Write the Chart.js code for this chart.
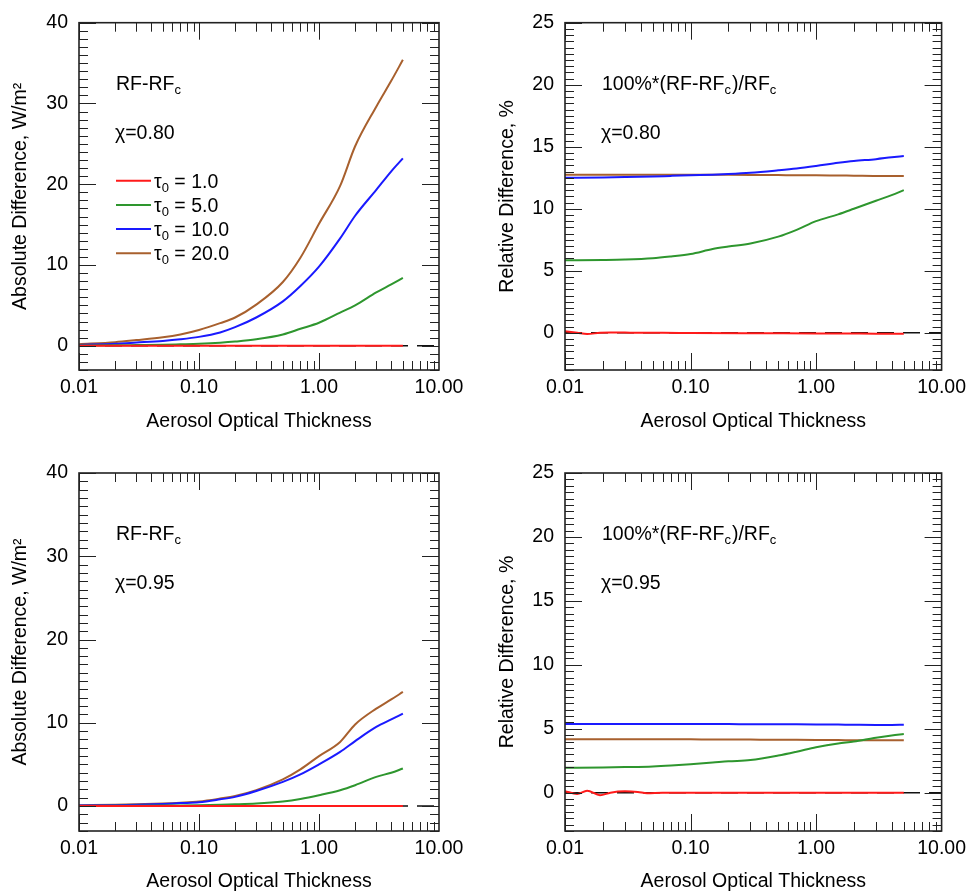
<!DOCTYPE html>
<html><head><meta charset="utf-8">
<script src="https://cdn.jsdelivr.net/npm/chart.js@4.4.0/dist/chart.umd.min.js"></script>
<style>
html,body{margin:0;padding:0;background:#fff;}
#wrap{position:relative;width:972px;height:893px;overflow:hidden;}
canvas{position:absolute;}
</style></head><body>
<div id="wrap">
<canvas id="c1" width="486" height="446" style="left:0;top:0"></canvas>
<canvas id="c2" width="486" height="446" style="left:486px;top:0"></canvas>
<canvas id="c3" width="486" height="447" style="left:0;top:446px"></canvas>
<canvas id="c4" width="486" height="447" style="left:486px;top:446px"></canvas>
</div>
<script>
// ---------- data ----------
const aot = [0.01,0.02,0.03,0.05,0.07,0.1,0.15,0.2,0.3,0.5,0.7,1.0,1.5,2.0,3.0,4.0,5.0];
const aotFine = [0.01,0.0125,0.015,0.019,0.023,0.03,0.038,0.045,0.06,0.1,0.3,1.0,3.0,5.0];
const tauLabels = ['1.0','5.0','10.0','20.0'];
const seriesColors = ['#ff1a1a','#2e962e','#1a1aff','#a8602e'];
const xTickValues = [0.01,0.1,1,10];
const xTickLabels = ['0.01','0.10','1.00','10.00'];
const absTicks = [0,10,20,30,40];
const relTicks = [0,5,10,15,20,25];

// Absolute difference, chi = 0.80
const abs080_tau1  = [0,0,0,0,0,0,0,0,0,0,0,0,0,0,0,0,0];
const abs080_tau5  = [0.02,0.05,0.08,0.12,0.18,0.25,0.38,0.52,0.8,1.4,2.1,2.85,4.1,5.0,6.6,7.6,8.4];
const abs080_tau10 = [0.1,0.25,0.4,0.6,0.8,1.1,1.65,2.3,3.5,5.5,7.4,9.8,13.3,16.1,19.3,21.6,23.2];
const abs080_tau20 = [0.2,0.45,0.7,1.05,1.4,1.95,2.8,3.5,5.1,7.9,10.9,15.1,19.8,24.7,29.6,32.8,35.4];
// Relative difference, chi = 0.80
const rel080_tau1  = [0.12,0.0,-0.1,0.0,0.03,0.02,0.0,0.0,0.0,-0.02,-0.04,-0.05,-0.07,-0.08];
const rel080_tau5  = [5.85,5.87,5.9,6.0,6.15,6.35,6.75,6.95,7.2,7.75,8.3,9.0,9.55,10.0,10.65,11.1,11.5];
const rel080_tau10 = [12.5,12.52,12.55,12.6,12.65,12.7,12.75,12.8,12.9,13.1,13.25,13.45,13.7,13.85,14.0,14.15,14.25];
const rel080_tau20 = [12.75,12.75,12.75,12.75,12.75,12.75,12.75,12.74,12.73,12.72,12.7,12.7,12.68,12.67,12.65,12.65,12.65];
// Absolute difference, chi = 0.95
const abs095_tau1  = [0,0,0,0,0,0,0,0,0,0,0,0,0,0,0,0,0];
const abs095_tau5  = [0.01,0.02,0.03,0.05,0.07,0.1,0.15,0.2,0.3,0.55,0.85,1.3,1.9,2.5,3.5,4.0,4.5];
const abs095_tau10 = [0.05,0.1,0.15,0.25,0.35,0.45,0.8,1.1,1.8,2.9,3.8,5.0,6.5,7.8,9.5,10.4,11.1];
const abs095_tau20 = [0.1,0.15,0.2,0.3,0.4,0.55,0.9,1.2,1.9,3.2,4.4,6.0,7.7,9.8,11.7,12.8,13.7];
// Relative difference, chi = 0.95
const rel095_tau1  = [0.12,-0.1,0.15,-0.2,0.0,0.1,0.05,-0.05,0,0,0,0,0,0];
const rel095_tau5  = [1.95,1.97,2.0,2.05,2.12,2.22,2.35,2.45,2.55,2.9,3.2,3.55,3.85,4.0,4.3,4.47,4.58];
const rel095_tau10 = [5.36,5.36,5.36,5.36,5.36,5.36,5.36,5.36,5.35,5.35,5.34,5.33,5.32,5.31,5.3,5.3,5.31];
const rel095_tau20 = [4.17,4.17,4.17,4.17,4.17,4.17,4.16,4.16,4.15,4.14,4.13,4.12,4.11,4.1,4.09,4.09,4.09];

// ---------- drawing ----------
const FF = "'Liberation Sans', Arial, Helvetica, sans-serif";
const FS = 19.5;

function series(xs, ys, i) {
  return {label: tauLabels[i], data: xs.map((x, k) => ({x: x, y: ys[k]})),
    borderColor: seriesColors[i], backgroundColor: seriesColors[i], borderWidth: 2,
    fill: false, pointRadius: 0, cubicInterpolationMode: 'monotone', order: 1};
}
function zeroLine() {
  return {label: 'zero', data: [{x: xTickValues[0], y: 0}, {x: xTickValues[3], y: 0}],
    borderColor: '#111', borderWidth: 1.5, borderDash: [17, 9], pointRadius: 0, fill: false, order: 10, isZero: true};
}

const framePlugin = {
  id: 'frame',
  afterDatasetsDraw(chart) {
    const {ctx, chartArea: a, scales: {x, y}} = chart;
    const o = chart.options.plugins.annot;
    ctx.save();
    ctx.strokeStyle = '#222';
    ctx.lineWidth = 1;
    const MAJ = 17, MIN = 9;
    ctx.beginPath();
    [0.01, 0.1, 1].forEach(d => {
      for (let k = 1; k <= 9; k++) {
        const px = Math.round(x.getPixelForValue(d * k)) + 0.5;
        const len = k === 1 ? MAJ : MIN;
        ctx.moveTo(px, a.bottom); ctx.lineTo(px, a.bottom - len);
        ctx.moveTo(px, a.top); ctx.lineTo(px, a.top + len);
      }
    });
    const step = o.minor, major = o.major;
    for (let i = Math.ceil(y.min / step); i * step <= y.max + 1e-9; i++) {
      const v = i * step;
      const py = Math.round(y.getPixelForValue(v)) + 0.5;
      const isMaj = Math.abs(v / major - Math.round(v / major)) < 1e-9;
      const len = isMaj ? MAJ : MIN;
      ctx.moveTo(a.left, py); ctx.lineTo(a.left + len, py);
      ctx.moveTo(a.right, py); ctx.lineTo(a.right - len, py);
    }
    ctx.stroke();
    ctx.lineWidth = 1.6;
    ctx.strokeStyle = '#222';
    ctx.strokeRect(a.left, a.top, a.right - a.left, a.bottom - a.top);
    ctx.restore();
  }
};

const annotPlugin = {
  id: 'annot',
  afterDraw(chart) {
    const {ctx, chartArea: a} = chart;
    const o = chart.options.plugins.annot;
    ctx.save();
    ctx.fillStyle = '#000';
    ctx.textBaseline = 'alphabetic';
    const big = FS + 'px ' + FF, small = '13px ' + FF;
    let x = a.left + 37, y = a.top + 67;
    const parts = o.kind === 'abs'
      ? [['RF-RF', 0], ['c', 1]]
      : [['100%*(RF-RF', 0], ['c', 1], [')/RF', 0], ['c', 1]];
    parts.forEach(([t, sub]) => {
      ctx.font = sub ? small : big;
      ctx.fillText(t, x, y + (sub ? 4 : 0));
      x += ctx.measureText(t).width + (sub ? 1 : 0);
    });
    ctx.font = big;
    ctx.fillText('\u03c7=' + o.chi, a.left + 36, a.top + 116);
    if (o.legend) {
      const ds = chart.data.datasets.filter(d => !d.isZero);
      ds.forEach((d, i) => {
        const ly = a.top + 158 + i * 24.2;
        ctx.strokeStyle = d.borderColor; ctx.lineWidth = 2;
        ctx.beginPath(); ctx.moveTo(a.left + 37, ly); ctx.lineTo(a.left + 72, ly); ctx.stroke();
        let tx = a.left + 75;
        const by = ly + 7;
        ctx.font = big; ctx.fillText('\u03c4', tx, by); tx += ctx.measureText('\u03c4').width;
        ctx.font = small; ctx.fillText('0', tx, by + 4); tx += ctx.measureText('0').width;
        ctx.font = big; ctx.fillText(' = ' + d.label, tx, by);
      });
    }
    ctx.restore();
  }
};

function makePanel(id, datasets, cfg) {
  new Chart(document.getElementById(id), {
    type: 'line',
    data: {datasets: [zeroLine()].concat(datasets)},
    options: {
      responsive: false, animation: false, devicePixelRatio: 1,
      layout: {padding: cfg.pad},
      plugins: {legend: {display: false}, tooltip: {enabled: false}, annot: cfg.annot},
      scales: {
        x: {
          type: 'logarithmic', min: xTickValues[0], max: xTickValues[3],
          afterBuildTicks(s) { s.ticks = xTickValues.map(v => ({value: v})); },
          ticks: {autoSkip: false, maxRotation: 0, minRotation: 0, padding: 6, color: '#000',
            font: {size: FS, family: FF}, callback: (v, i) => xTickLabels[i]},
          grid: {display: false, drawTicks: false}, border: {display: false},
          title: {display: true, text: 'Aerosol Optical Thickness', color: '#000',
            font: {size: FS, family: FF}, padding: {top: 0, bottom: cfg.xTitlePad}},
          afterFit(s) { s.height = cfg.xH; }
        },
        y: {
          type: 'linear', min: cfg.yMin, max: cfg.yMax,
          afterBuildTicks(s) { s.ticks = cfg.yTicks.map(v => ({value: v})); },
          ticks: {autoSkip: false, padding: 11, color: '#000', font: {size: FS, family: FF}},
          grid: {display: false, drawTicks: false}, border: {display: false},
          title: {display: true, text: cfg.yTitle, color: '#000',
            font: {size: FS, family: FF}, padding: {top: cfg.yTitlePad, bottom: 0}},
          afterFit(s) { s.width = 79; }
        }
      }
    },
    plugins: [framePlugin, annotPlugin]
  });
}

makePanel('c1', [series(aot, abs080_tau1, 0), series(aot, abs080_tau5, 1), series(aot, abs080_tau10, 2), series(aot, abs080_tau20, 3)],
  {pad: {top: 12, right: 47, bottom: 0, left: 0}, xH: 76, xTitlePad: 13, yTitlePad: 9,
   yMin: -3, yMax: 40, yTicks: absTicks, yTitle: 'Absolute Difference, W/m\u00b2',
   annot: {kind: 'abs', chi: '0.80', legend: true, minor: 1, major: 10}});
makePanel('c2', [series(aotFine, rel080_tau1, 0), series(aot, rel080_tau5, 1), series(aot, rel080_tau10, 2), series(aot, rel080_tau20, 3)],
  {pad: {top: 12, right: 27, bottom: 0, left: 0}, xH: 76, xTitlePad: 13, yTitlePad: 10,
   yMin: -3, yMax: 25, yTicks: relTicks, yTitle: 'Relative Difference, %',
   annot: {kind: 'rel', chi: '0.80', legend: false, minor: 0.5, major: 5}});
makePanel('c3', [series(aot, abs095_tau1, 0), series(aot, abs095_tau5, 1), series(aot, abs095_tau10, 2), series(aot, abs095_tau20, 3)],
  {pad: {top: 27, right: 47, bottom: 0, left: 0}, xH: 62, xTitlePad: 0, yTitlePad: 9,
   yMin: -3, yMax: 40, yTicks: absTicks, yTitle: 'Absolute Difference, W/m\u00b2',
   annot: {kind: 'abs', chi: '0.95', legend: false, minor: 1, major: 10}});
makePanel('c4', [series(aotFine, rel095_tau1, 0), series(aot, rel095_tau5, 1), series(aot, rel095_tau10, 2), series(aot, rel095_tau20, 3)],
  {pad: {top: 27, right: 27, bottom: 0, left: 0}, xH: 62, xTitlePad: 0, yTitlePad: 10,
   yMin: -3, yMax: 25, yTicks: relTicks, yTitle: 'Relative Difference, %',
   annot: {kind: 'rel', chi: '0.95', legend: false, minor: 0.5, major: 5}});
</script>
</body></html>
